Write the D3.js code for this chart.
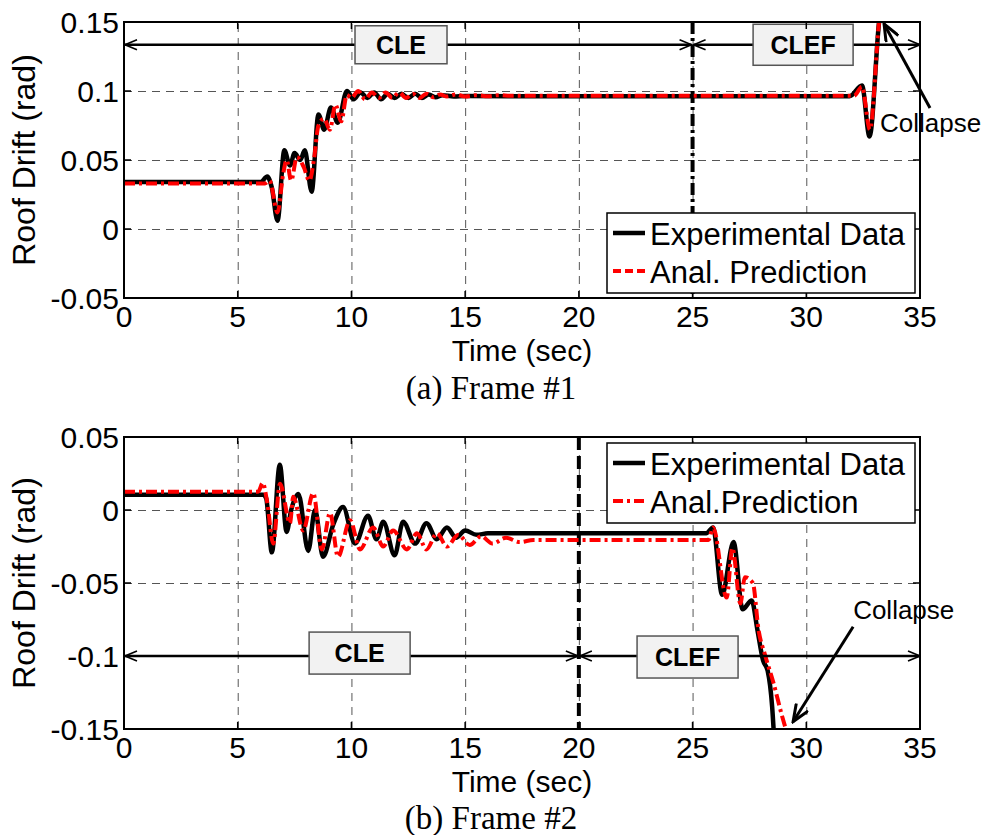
<!DOCTYPE html>
<html>
<head>
<meta charset="utf-8">
<script src="https://cdn.jsdelivr.net/npm/d3@7"></script>
<style>
  body { margin: 0; background: #fff; }
  svg text { font-family: "Liberation Sans", Arial, Helvetica, sans-serif; }
  svg text.caption { font-family: "Liberation Serif", "Times New Roman", serif; }
</style>
</head>
<body>
<div id="chart"></div>
<script>
// ---- data ----
const xTicks = [0, 5, 10, 15, 20, 25, 30, 35];
const yTicks1 = [-0.05, 0, 0.05, 0.1, 0.15];
const yTicks2 = [-0.15, -0.1, -0.05, 0, 0.05];
const yTickLabels1 = ["-0.05", "0", "0.05", "0.1", "0.15"];
const yTickLabels2 = ["-0.15", "-0.1", "-0.05", "0", "0.05"];

// Frame #1 : [time (sec), roof drift (rad)]
const exp1 = [
  [0, 0.034], [6.0, 0.034], [6.3, 0.038], [6.5, 0.03], [6.75, 0.006], [7.05, 0.057],
  [7.3, 0.046], [7.5, 0.055], [7.75, 0.05], [7.95, 0.057], [8.25, 0.027], [8.55, 0.083],
  [8.8, 0.072], [9.1, 0.088], [9.4, 0.077], [9.8, 0.1], [10.1, 0.094], [10.4, 0.099],
  [10.7, 0.095], [11.0, 0.099], [11.3, 0.094], [11.6, 0.098], [11.9, 0.095], [12.2, 0.098],
  [12.5, 0.095], [12.8, 0.098], [13.1, 0.095], [13.4, 0.0975], [13.7, 0.0955], [14.0, 0.097],
  [14.5, 0.096], [15.0, 0.0963], [20.0, 0.0962], [25.0, 0.0962], [31.9, 0.0962],
  [32.45, 0.104], [32.78, 0.067], [33.2, 0.15], [33.4, 0.175]
];
const anal1 = [
  [0, 0.033], [6.2, 0.033], [6.4, 0.035], [6.75, 0.012], [7.0, 0.04], [7.15, 0.05],
  [7.35, 0.035], [7.6, 0.052], [7.9, 0.045], [8.15, 0.035], [8.35, 0.05], [8.55, 0.075],
  [8.8, 0.08], [9.05, 0.072], [9.3, 0.09], [9.55, 0.078], [9.8, 0.097], [10.0, 0.095],
  [10.3, 0.1], [10.6, 0.094], [10.9, 0.099], [11.2, 0.095], [11.5, 0.099], [11.8, 0.095],
  [12.1, 0.099], [12.4, 0.095], [12.7, 0.098], [13.0, 0.095], [13.3, 0.098], [13.6, 0.0955],
  [13.9, 0.0975], [14.2, 0.096], [14.6, 0.0975], [15.0, 0.096], [15.5, 0.097], [16.0, 0.0962],
  [16.5, 0.097], [17.0, 0.0965], [25.0, 0.0965], [32.1, 0.0965], [32.45, 0.103],
  [32.8, 0.072], [33.2, 0.15], [33.4, 0.175]
];

// Frame #2
const exp2 = [
  [0, 0.0105], [6.1, 0.0105], [6.25, 0.008], [6.5, -0.029], [6.85, 0.031], [7.15, -0.015],
  [7.35, 0.0], [7.67, 0.011], [8.1, -0.028], [8.4, 0.0], [8.75, -0.032], [9.2, -0.01],
  [9.63, 0.002], [10.16, -0.023], [10.73, -0.004], [11.1, -0.02], [11.4, -0.008], [11.9, -0.031],
  [12.27, -0.008], [12.8, -0.023], [13.3, -0.009], [13.75, -0.02], [14.2, -0.012], [14.6, -0.019],
  [15.0, -0.014], [15.5, -0.017], [16.0, -0.016], [20.0, -0.016], [25.6, -0.016], [25.9, -0.012],
  [26.3, -0.058], [26.8, -0.022], [27.2, -0.068], [27.6, -0.062], [27.85, -0.082], [28.1, -0.103],
  [28.3, -0.11], [28.5, -0.135], [28.6, -0.16]
];
const anal2 = [
  [0, 0.0125], [5.9, 0.0125], [6.1, 0.0185], [6.3, 0.005], [6.56, -0.023], [6.86, 0.018],
  [7.3, -0.009], [7.44, 0.009], [7.88, -0.014], [8.32, 0.0116], [8.7, -0.027], [9.06, -0.002],
  [9.41, -0.032], [9.94, -0.007], [10.38, -0.027], [10.95, -0.012], [11.4, -0.025], [11.83, -0.014],
  [12.44, -0.027], [12.88, -0.016], [13.3, -0.027], [13.76, -0.016], [14.2, -0.025], [14.7, -0.017],
  [15.2, -0.024], [15.7, -0.018], [16.2, -0.023], [16.8, -0.019], [17.4, -0.022], [18.0, -0.0205],
  [25.7, -0.0205], [25.9, -0.012], [26.5, -0.06], [26.75, -0.026], [27.1, -0.064], [27.3, -0.046],
  [27.65, -0.05], [27.9, -0.082], [28.2, -0.1], [28.55, -0.118], [28.95, -0.142], [29.3, -0.16]
];

const seriesNames = ["Experimental Data", "Anal. Prediction", "Anal.Prediction"];

const width = 987;
const height = 835;

const svg = d3.select("#chart").append("svg")
  .attr("width", width)
  .attr("height", height);

const defs = svg.append("defs");
defs.append("marker")
  .attr("id", "arrow")
  .attr("viewBox", "0 0 14 12")
  .attr("refX", 13).attr("refY", 6)
  .attr("markerWidth", 14).attr("markerHeight", 12)
  .attr("markerUnits", "userSpaceOnUse")
  .attr("orient", "auto-start-reverse")
  .append("path")
  .attr("d", "M1,1 L13,6 L1,11")
  .attr("fill", "none").attr("stroke", "#000").attr("stroke-width", 1.6);
defs.append("marker")
  .attr("id", "arrowBig")
  .attr("viewBox", "0 0 20 16")
  .attr("refX", 18).attr("refY", 8)
  .attr("markerWidth", 20).attr("markerHeight", 16)
  .attr("markerUnits", "userSpaceOnUse")
  .attr("orient", "auto")
  .append("path")
  .attr("d", "M1,1 L18,8 L1,15")
  .attr("fill", "none").attr("stroke", "#000").attr("stroke-width", 3);

function drawPanel(p) {
  const x = d3.scaleLinear().domain([0, 35]).range([124, 920]);
  const y = d3.scaleLinear().domain(p.yDomain).range([p.bottom, p.top]);
  const g = svg.append("g");

  defs.append("clipPath").attr("id", p.id + "-clip")
    .append("rect")
    .attr("x", 124).attr("y", p.top).attr("width", 796).attr("height", p.bottom - p.top);

  // grid
  g.append("g")
    .attr("transform", `translate(0,${p.bottom})`)
    .call(d3.axisBottom(x).tickValues(xTicks.slice(1, -1)).tickSize(-(p.bottom - p.top)).tickFormat(""))
    .call(a => a.select(".domain").remove())
    .call(a => a.selectAll("line").attr("stroke", "#555").attr("stroke-dasharray", "8,6"));
  g.append("g")
    .attr("transform", "translate(124,0)")
    .call(d3.axisLeft(y).tickValues(p.yTicks.slice(1, -1)).tickSize(-796).tickFormat(""))
    .call(a => a.select(".domain").remove())
    .call(a => a.selectAll("line").attr("stroke", "#555").attr("stroke-dasharray", "8,6"));

  // vertical phase line
  g.append("line")
    .attr("x1", x(p.split)).attr("x2", x(p.split))
    .attr("y1", p.top).attr("y2", p.bottom)
    .attr("stroke", "#000").attr("stroke-width", 4)
    .attr("stroke-dasharray", p.splitDash);

  // series
  const line = d3.line().x(d => x(d[0])).y(d => y(d[1])).curve(d3.curveMonotoneX);
  const plot = g.append("g").attr("clip-path", `url(#${p.id}-clip)`);
  plot.append("path").datum(p.exp)
    .attr("d", line).attr("fill", "none")
    .attr("stroke", "#000").attr("stroke-width", 4.5).attr("stroke-linejoin", "round");
  plot.append("path").datum(p.anal)
    .attr("d", line).attr("fill", "none")
    .attr("stroke", "#f00").attr("stroke-width", 4)
    .attr("stroke-dasharray", "11,4,3,4");

  // phase arrows + labels
  [[0, p.split], [p.split, 35]].forEach(([a, b]) => {
    g.append("line")
      .attr("x1", x(a) + 1).attr("x2", x(b) - (b === 35 ? 0 : 1))
      .attr("y1", y(p.arrowY)).attr("y2", y(p.arrowY))
      .attr("stroke", "#000").attr("stroke-width", 2.5)
      .attr("marker-start", "url(#arrow)").attr("marker-end", "url(#arrow)");
  });
  p.boxes.forEach(bx => {
    const cx = x(bx.t), cy = y(bx.v);
    g.append("rect")
      .attr("x", cx - bx.w / 2).attr("y", cy - bx.h / 2)
      .attr("width", bx.w).attr("height", bx.h)
      .attr("fill", "#f2f2f2").attr("stroke", "#555").attr("stroke-width", 1.5);
    g.append("text")
      .attr("x", cx).attr("y", cy + 9)
      .attr("text-anchor", "middle")
      .attr("font-size", 25).attr("font-weight", "bold")
      .text(bx.label);
  });

  // collapse note
  g.append("line")
    .attr("x1", x(p.collapse.tail[0])).attr("y1", y(p.collapse.tail[1]))
    .attr("x2", x(p.collapse.head[0])).attr("y2", y(p.collapse.head[1]))
    .attr("stroke", "#000").attr("stroke-width", 3)
    .attr("marker-end", "url(#arrowBig)");
  g.append("text")
    .attr("x", x(p.collapse.text[0])).attr("y", y(p.collapse.text[1]))
    .attr("font-size", 26)
    .text("Collapse");

  // frame
  g.append("rect")
    .attr("x", 124).attr("y", p.top).attr("width", 796).attr("height", p.bottom - p.top)
    .attr("fill", "none").attr("stroke", "#000").attr("stroke-width", 2);
  // inward ticks
  xTicks.forEach(t => {
    g.append("line").attr("x1", x(t)).attr("x2", x(t)).attr("y1", p.bottom).attr("y2", p.bottom - 7).attr("stroke", "#000").attr("stroke-width", 1.5);
    g.append("line").attr("x1", x(t)).attr("x2", x(t)).attr("y1", p.top).attr("y2", p.top + 7).attr("stroke", "#000").attr("stroke-width", 1.5);
  });
  p.yTicks.forEach(v => {
    g.append("line").attr("x1", 124).attr("x2", 131).attr("y1", y(v)).attr("y2", y(v)).attr("stroke", "#000").attr("stroke-width", 1.5);
    g.append("line").attr("x1", 913).attr("x2", 920).attr("y1", y(v)).attr("y2", y(v)).attr("stroke", "#000").attr("stroke-width", 1.5);
  });

  // tick labels
  g.selectAll(".xl").data(xTicks).join("text")
    .attr("x", d => x(d)).attr("y", p.bottom + 29)
    .attr("text-anchor", "middle").attr("font-size", 30)
    .text(d => d);
  g.selectAll(".yl").data(p.yTicks).join("text")
    .attr("x", 119).attr("y", d => y(d) + 11)
    .attr("text-anchor", "end").attr("font-size", 30)
    .text((d, i) => p.yTickLabels[i]);

  g.append("text")
    .attr("x", 522).attr("y", p.bottom + 63)
    .attr("text-anchor", "middle").attr("font-size", 30)
    .text("Time (sec)");
  g.append("text")
    .attr("transform", `translate(35,${(p.top + p.bottom) / 2}) rotate(-90)`)
    .attr("text-anchor", "middle").attr("font-size", 32)
    .text("Roof Drift (rad)");

  // legend
  const lg = g.append("g").attr("transform", `translate(607,${p.legendTop})`);
  lg.append("rect").attr("width", 308).attr("height", 80)
    .attr("fill", "#fff").attr("stroke", "#000").attr("stroke-width", 1.5);
  lg.append("line").attr("x1", 6).attr("x2", 38).attr("y1", 20).attr("y2", 20)
    .attr("stroke", "#000").attr("stroke-width", 4.5);
  lg.append("line").attr("x1", 6).attr("x2", 38).attr("y1", 58).attr("y2", 58)
    .attr("stroke", "#f00").attr("stroke-width", 4).attr("stroke-dasharray", p.legendDash);
  lg.append("text").attr("x", 43).attr("y", 32).attr("font-size", 31).text(seriesNames[0]);
  lg.append("text").attr("x", 43).attr("y", 70).attr("font-size", 31).text(p.analName);

  svg.append("text")
    .attr("class", "caption")
    .attr("x", 491).attr("y", p.captionY)
    .attr("text-anchor", "middle")
    .attr("font-size", 33)
    .text(p.caption);
}

drawPanel({
  id: "p1", top: 22, bottom: 298,
  yDomain: [-0.05, 0.15], yTicks: yTicks1, yTickLabels: yTickLabels1,
  exp: exp1, anal: anal1,
  split: 25, splitDash: "12,4,3,4", arrowY: 0.1335,
  boxes: [
    { t: 12.18, v: 0.1335, w: 92, h: 38, label: "CLE" },
    { t: 29.86, v: 0.1335, w: 100, h: 41, label: "CLEF" }
  ],
  collapse: { tail: [35.44, 0.0877], head: [33.42, 0.1486], text: [33.24, 0.0705] },
  legendTop: 213, legendDash: "8,4", analName: seriesNames[1],
  caption: "(a) Frame #1", captionY: 399
});

drawPanel({
  id: "p2", top: 437, bottom: 729,
  yDomain: [-0.15, 0.05], yTicks: yTicks2, yTickLabels: yTickLabels2,
  exp: exp2, anal: anal2,
  split: 20, splitDash: "13,6", arrowY: -0.1,
  boxes: [
    { t: 10.36, v: -0.098, w: 101, h: 42, label: "CLE" },
    { t: 24.78, v: -0.1007, w: 101, h: 42, label: "CLEF" }
  ],
  collapse: { tail: [32.06, -0.080], head: [29.42, -0.145], text: [32.06, -0.0747] },
  legendTop: 443, legendDash: "10,4,3,4", analName: seriesNames[2],
  caption: "(b) Frame #2", captionY: 829
});
</script>
</body>
</html>
